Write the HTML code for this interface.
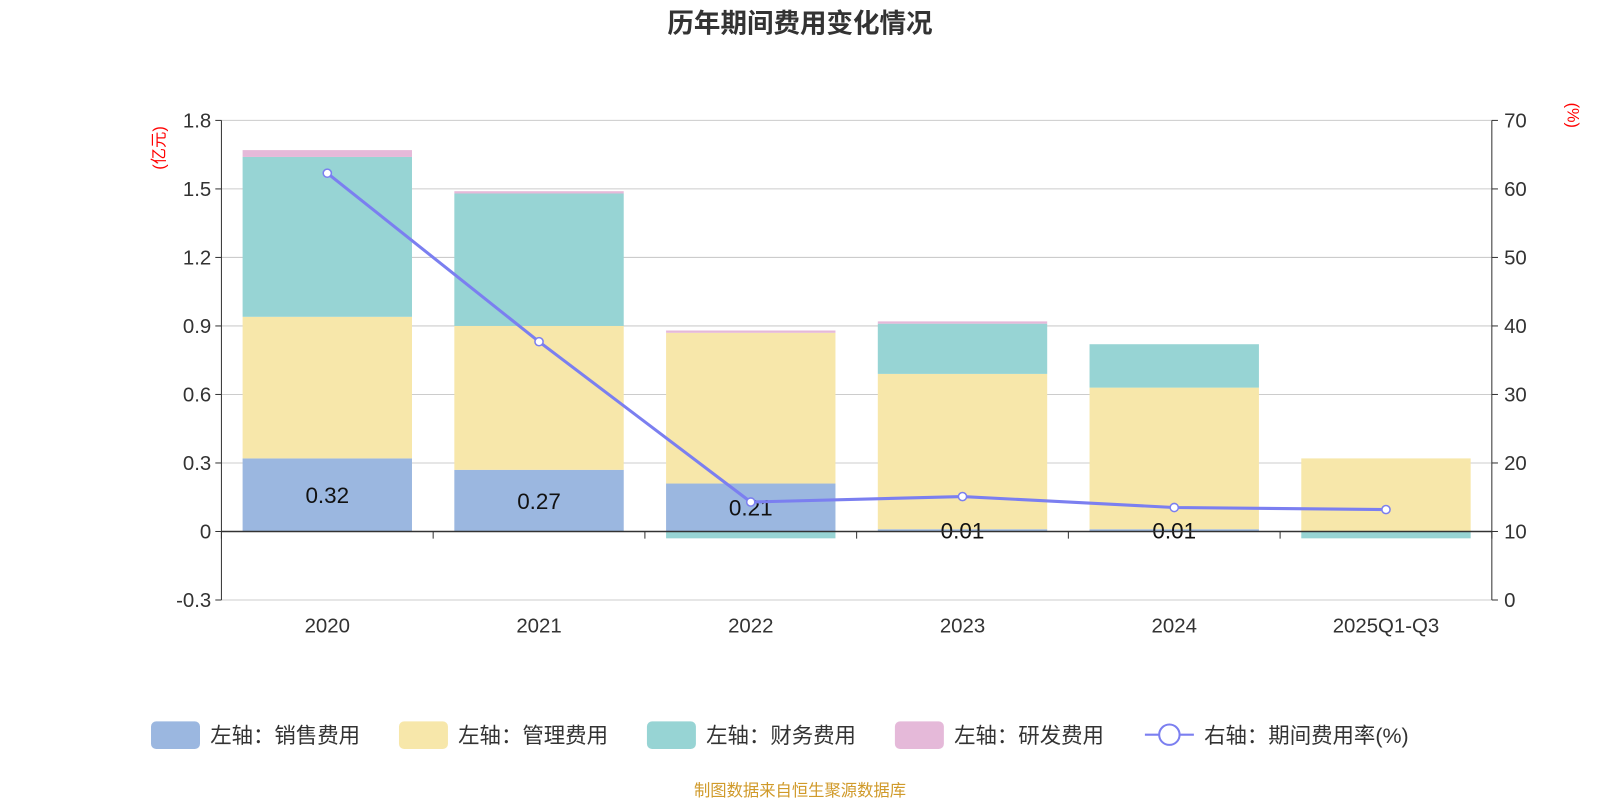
<!DOCTYPE html>
<html><head><meta charset="utf-8"><style>
body{margin:0;background:#fff;width:1600px;height:800px;overflow:hidden;font-family:"Liberation Sans","Noto Sans CJK SC",sans-serif}
</style></head><body>
<svg id="c" width="1600" height="800" viewBox="0 0 1568 784" xmlns="http://www.w3.org/2000/svg"></svg>
<script>
const categories=["2020","2021","2022","2023","2024","2025Q1-Q3"];
const sales=[0.32,0.27,0.21,0.01,0.01,0];
const mgmt=[0.62,0.63,0.66,0.68,0.62,0.32];
const fin=[0.70,0.58,-0.03,0.22,0.19,-0.03];
const rd=[0.03,0.01,0.01,0.01,0,0];
const rate=[62.3,37.7,14.3,15.1,13.5,13.2];
const leftTicks=[-0.3,0,0.3,0.6,0.9,1.2,1.5,1.8];
const rightTicks=[0,10,20,30,40,50,60,70];
const NS="http://www.w3.org/2000/svg",svg=document.getElementById('c');
const X0=217,X1=1462,YT=118,YB=588;
const yL=v=>YB-(v+0.3)/2.1*(YB-YT);
const yR=v=>YB-v/70*(YB-YT);
const bw=(X1-X0)/categories.length;
const xc=i=>X0+bw*(i+0.5);
function el(t,a,txt){const e=document.createElementNS(NS,t);for(const k in a)e.setAttribute(k,a[k]);if(txt!=null)e.textContent=txt;svg.appendChild(e);return e;}
let e;
e=el('text',{x:784,y:32,'text-anchor':'middle','font-size':26,'font-weight':'bold',fill:'#333'},'历年期间费用变化情况');

leftTicks.forEach(v=>{const y=yL(v);
e=el('line',{x1:X0,x2:X1,y1:y,y2:y,stroke:'#ccc','stroke-width':1});

e=el('text',{x:X0-10,y:y+7,'text-anchor':'end','font-size':20,fill:'#333'},String(v));

el('line',{x1:X0-6,x2:X0,y1:y,y2:y,stroke:'#333'});});
rightTicks.forEach(v=>{const y=yR(v);
e=el('text',{x:X1+12,y:y+7,'font-size':20,fill:'#333'},String(v));

el('line',{x1:X1,x2:X1+6,y1:y,y2:y,stroke:'#333'});});
e=el('text',{x:0,y:0,'font-size':16,fill:'red',transform:`translate(161,145) rotate(-90)`,'text-anchor':'middle'},'(亿元)');

e=el('text',{x:0,y:0,'font-size':16,fill:'red',transform:`translate(1536,113) rotate(90)`,'text-anchor':'middle'},'(%)');

const colors=['#9bb7e0','#f7e7aa','#97d4d4','#e5b9d9'];
const series=[sales,mgmt,fin,rd];
categories.forEach((c,i)=>{let pos=0,neg=0;
series.forEach((s,k)=>{const v=s[i];if(!v)return;let y0,y1;
if(v>=0){y0=pos;pos+=v;y1=pos;}else{y0=neg;neg+=v;y1=neg;}
e=el('rect',{x:xc(i)-83,width:166,y:Math.min(yL(y0),yL(y1)),height:Math.abs(yL(y1)-yL(y0)),fill:colors[k]});
});
if(sales[i]){e=el('text',{x:xc(i),y:(yL(0)+yL(sales[i]))/2+8,'text-anchor':'middle','font-size':22,fill:'#111'},sales[i].toFixed(2));
}
e=el('text',{x:xc(i),y:620,'text-anchor':'middle','font-size':20,fill:'#333'},c);
});
el('line',{x1:X0,x2:X1,y1:yL(0),y2:yL(0),stroke:'#333','stroke-width':1.5});
for(let i=0;i<=categories.length;i++)el('line',{x1:X0+bw*i,x2:X0+bw*i,y1:yL(0),y2:yL(0)+7,stroke:'#333'});
el('line',{x1:X0,x2:X0,y1:YT,y2:YB,stroke:'#333'});
el('line',{x1:X1,x2:X1,y1:YT,y2:YB,stroke:'#333'});
e=el('polyline',{points:rate.map((v,i)=>xc(i)+','+yR(v)).join(' '),fill:'none',stroke:'#7b7ff0','stroke-width':3});

rate.forEach((v,i)=>{e=el('circle',{cx:xc(i),cy:yR(v),r:4,fill:'#fff',stroke:'#7b7ff0','stroke-width':1.5});
});
const leg=[['左轴：销售费用',148],['左轴：管理费用',391],['左轴：财务费用',634],['左轴：研发费用',877]];
leg.forEach((l,k)=>{e=el('rect',{x:l[1],y:707,width:48,height:27,rx:5,fill:colors[k]});

e=el('text',{x:l[1]+58,y:728,'font-size':21,fill:'#333'},l[0]);
});
el('line',{x1:1122,x2:1170,y1:720,y2:720,stroke:'#7b7ff0','stroke-width':2});
e=el('circle',{cx:1146,cy:720,r:10,fill:'#fff',stroke:'#7b7ff0','stroke-width':2});

e=el('text',{x:1180,y:728,'font-size':21,fill:'#333'},'右轴：期间费用率(%)');

e=el('text',{x:784,y:780,'text-anchor':'middle','font-size':16,fill:'#d09a2a'},'制图数据来自恒生聚源数据库');

</script>
</body></html>
